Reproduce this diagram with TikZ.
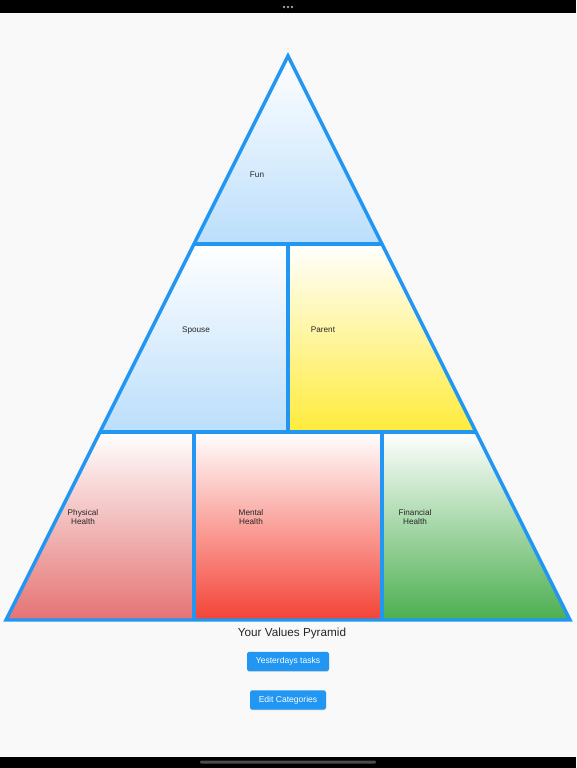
\documentclass[tikz,border=0pt]{standalone}
\usepackage{fontspec}
\setmainfont{Liberation Sans}
\usepackage{xcolor}
\usetikzlibrary{positioning,shadows}

\definecolor{edgeblue}{HTML}{2196F3}
\definecolor{lightblue}{HTML}{BBDEFB}
\definecolor{sunyellow}{HTML}{FFEB3B}
\definecolor{softred}{HTML}{E57373}
\definecolor{strongred}{HTML}{F44336}
\definecolor{leafgreen}{HTML}{4CAF50}
\definecolor{pagegrey}{HTML}{F9F9F9}

\begin{document}
\begin{tikzpicture}[
    x=0.03cm, y=-0.03cm,
    tier/.style={draw=none},
    rim/.style={draw=edgeblue, line width=2.9pt},
    lbl/.style={align=center, text=black!85, inner sep=0pt, font=\fontsize{7}{8.4}\selectfont},
    title/.style={text=black!85, inner sep=0pt, font=\fontsize{10}{12}\selectfont},
    btn/.style={rectangle, fill=edgeblue, rounded corners=1.5pt, text=white, inner sep=0pt, align=center, minimum height=0.58cm, font=\fontsize{7.3}{8.8}\selectfont, drop shadow={opacity=0.25, shadow xshift=0pt, shadow yshift=-0.5pt}}
]
    % page
    \fill [pagegrey] (0,0) rectangle (576,768);
    \fill [black] (0,0) rectangle (576,13);
    \fill [black] (0,757) rectangle (576,768);
    \foreach \dx in {-4,0,4}
        \fill [gray!75] (288+\dx,7) circle (1.4);
    \fill [black!70, rounded corners=1pt] (200,760.5) rectangle (376,763.5);

    % pyramid corners
    \coordinate (top) at (288,56);
    \coordinate (l1) at (194,244);
    \coordinate (m1) at (288,244);
    \coordinate (r1) at (382,244);
    \coordinate (l2) at (100,432);
    \coordinate (a2) at (194,432);
    \coordinate (m2) at (288,432);
    \coordinate (b2) at (382,432);
    \coordinate (r2) at (476,432);
    \coordinate (l3) at (6,620);
    \coordinate (a3) at (194,620);
    \coordinate (b3) at (382,620);
    \coordinate (r3) at (570,620);

    % tiers
    \shade [tier, top color=white, bottom color=lightblue] (top) -- (l1) -- (r1) -- cycle;
    \shade [tier, top color=white, bottom color=lightblue] (l1) -- (m1) -- (m2) -- (l2) -- cycle;
    \shade [tier, top color=white, bottom color=sunyellow] (m1) -- (r1) -- (r2) -- (m2) -- cycle;
    \shade [tier, top color=white, bottom color=softred] (l2) -- (a2) -- (a3) -- (l3) -- cycle;
    \shade [tier, top color=white, bottom color=strongred] (a2) -- (b2) -- (b3) -- (a3) -- cycle;
    \shade [tier, top color=white, bottom color=leafgreen] (b2) -- (r2) -- (r3) -- (b3) -- cycle;

    % outlines
    \draw [rim] (top) -- (l3) -- (r3) -- cycle;
    \draw [rim] (l1) -- (r1);
    \draw [rim] (l2) -- (r2);
    \draw [rim] (m1) -- (m2);
    \draw [rim] (a2) -- (a3);
    \draw [rim] (b2) -- (b3);

    % labels
    \node [lbl] (fun) at (257,174.5) {Fun};
    \node [lbl] (spouse) at (196,330) {Spouse};
    \node [lbl] (parent) at (323,330) {Parent};
    \node [lbl] (physical) at (83,517) {Physical\\Health};
    \node [lbl] (mental) at (251,517) {Mental\\Health};
    \node [lbl] (financial) at (415,517) {Financial\\Health};

    \node [title] (heading) at (292,633.5) {Your Values Pyramid};
    \node [btn, minimum width=2.46cm] (yesterday) at (288,661.5) {Yesterdays tasks};
    \node [btn, minimum width=2.28cm] (edit) at (288,700) {Edit Categories};
\end{tikzpicture}
\end{document}
